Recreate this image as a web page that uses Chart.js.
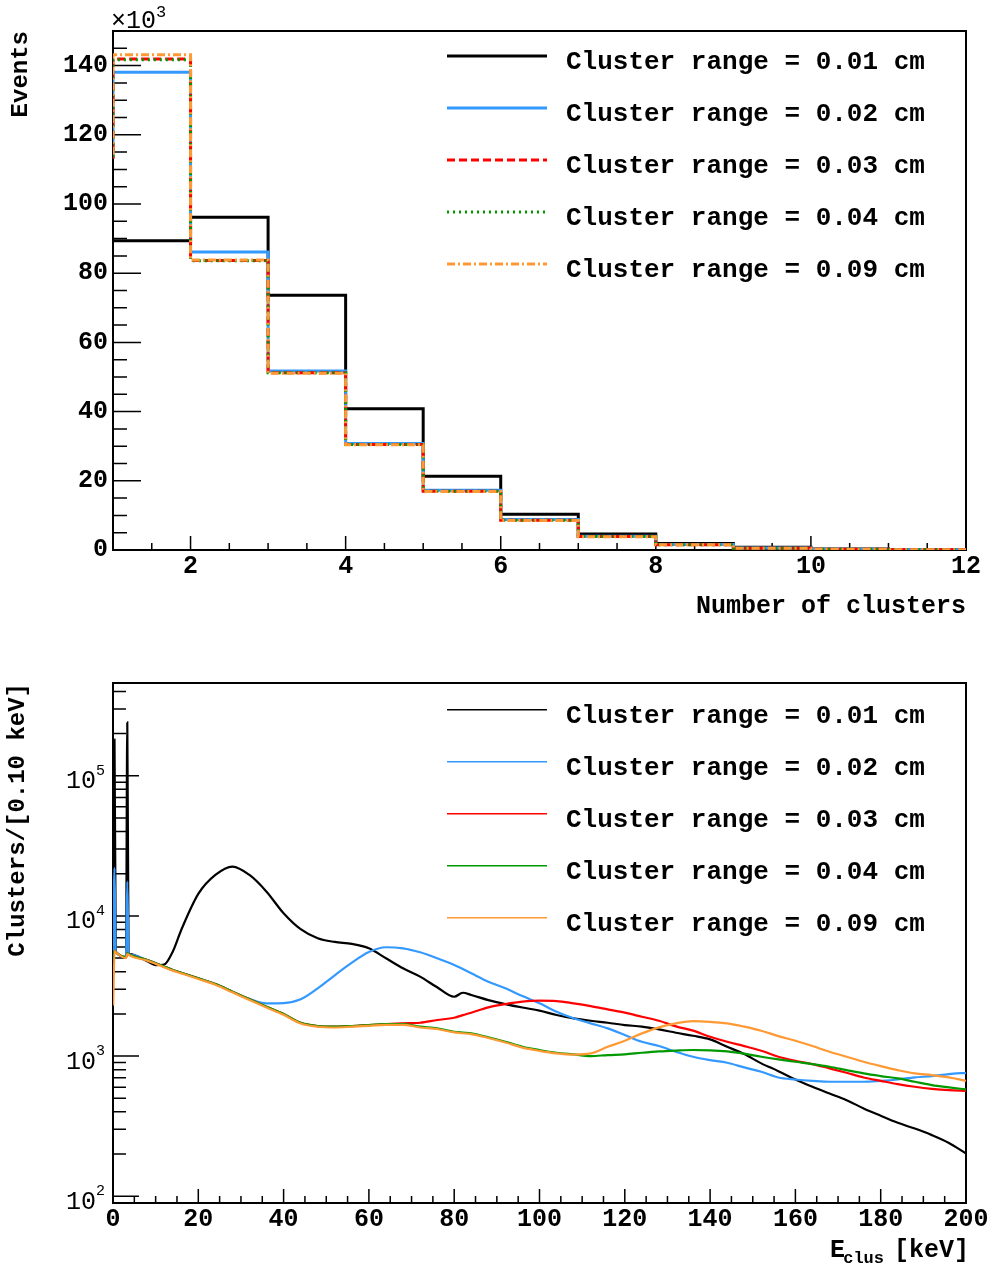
<!DOCTYPE html>
<html>
<head>
<meta charset="utf-8">
<script src="https://cdn.jsdelivr.net/npm/chart.js@4.4.1/dist/chart.umd.min.js"></script>
<style>
  html, body { margin: 0; padding: 0; background: #fff; overflow: hidden; }
  #wrap { position: relative; width: 988px; height: 1267px; overflow: hidden; }
  canvas { position: absolute; left: 0; }
  #clustersChart { top: 0; }
  #energyChart { top: 634px; }
</style>
</head>
<body>
<div id="wrap">
  <canvas id="clustersChart" width="1000" height="634"></canvas>
  <canvas id="energyChart" width="1000" height="633"></canvas>
</div>
<script>
// ---- number of clusters per event, counts in thousands ----
// lower bin edges; the bin starting at 0 lies below the drawn range
const clusterEdges = [0, 1, 2, 3, 4, 5, 6, 7, 8, 9, 10, 11];
const events001 = [89.4, 89.4, 96.2, 73.6, 40.8, 21.3, 10.3, 4.6, 1.9, 0.8, 0.3, 0.1];
const events002 = [113.5, 138.1, 86.1, 51.7, 30.8, 17.3, 8.8, 4.0, 1.6, 0.6, 0.2, 0.1];
const events003 = [113.5, 141.9, 83.7, 51.2, 30.5, 17.0, 8.6, 3.9, 1.5, 0.5, 0.2, 0.1];
const events004 = [113.5, 141.7, 83.6, 51.2, 30.5, 17.0, 8.6, 3.9, 1.5, 0.5, 0.2, 0.1];
const events009 = [113.5, 143.1, 83.8, 51.1, 30.4, 16.9, 8.5, 3.8, 1.5, 0.5, 0.2, 0.1];
const clusterTicks = [2, 4, 6, 8, 10, 12];
const eventTicks = [0, 20, 40, 60, 80, 100, 120, 140];

// ---- cluster energy spectra, clusters per 0.1 keV ----
const energies = [0.05, 0.35, 0.65, 3.05, 3.35, 3.65, 4, 8, 10, 12, 14, 16,
  20, 24, 28, 32, 36, 40, 44, 48, 52, 56, 60, 64, 68, 72, 76, 80, 82, 84,
  88, 92, 96, 100, 104, 108, 112, 116, 120, 124, 128, 132, 136, 140, 144,
  148, 152, 156, 160, 164, 168, 172, 176, 180, 184, 188, 192, 196, 200];
const clus001 = [5400, 181000, 5560, 5100, 240000, 5420, 5350, 4750, 4450, 4500, 5560, 7940,
  14350, 19600, 22500, 19600, 14900, 10450, 8040, 6930, 6520, 6310, 5870, 4990, 4230, 3690, 3095, 2650, 2830, 2730,
  2510, 2350, 2220, 2110, 1963, 1860, 1787, 1729, 1665, 1622, 1550, 1468, 1396, 1316, 1166,
  1033, 887, 781, 681, 604, 541, 485, 423, 375, 334, 304, 273, 240, 202];
const clus002 = [5000, 22000, 5560, 5100, 17600, 5420, 5300, 4850, 4600, 4345, 4115, 3935,
  3590, 3267, 2880, 2560, 2380, 2390, 2541, 3045, 3770, 4640, 5530, 5975, 5870, 5500, 4990, 4470, 4180, 3897,
  3394, 3045, 2680, 2380, 2072, 1860, 1712, 1577, 1413, 1265, 1179, 1073, 989, 936, 896,
  830, 773, 704, 681, 666, 656, 656, 656, 666, 681, 704, 720, 744, 760];
const clus003 = [4800, 5600, 5500, 5050, 5400, 5350, 5270, 4850, 4600, 4345, 4115, 3935,
  3590, 3267, 2880, 2541, 2250, 1995, 1729, 1638, 1622, 1638, 1665, 1692, 1712, 1729, 1808, 1878, 1960, 2040,
  2228, 2350, 2443, 2484, 2470, 2380, 2275, 2155, 2040, 1909, 1787, 1630, 1520, 1374, 1265,
  1179, 1091, 989, 926, 877, 817, 760, 704, 666, 631, 604, 584, 571, 565];
const clus004 = [4800, 5600, 5500, 5050, 5400, 5350, 5270, 4850, 4600, 4345, 4115, 3935,
  3590, 3267, 2880, 2541, 2250, 1995, 1729, 1638, 1622, 1638, 1665, 1692, 1692, 1622, 1577, 1492, 1470, 1452,
  1361, 1265, 1166, 1104, 1056, 1028, 1000, 1017, 1028, 1056, 1080, 1095, 1105, 1100, 1080,
  1040, 989, 947, 911, 877, 839, 794, 752, 720, 693, 656, 621, 598, 578];
const clus009 = [2300, 5600, 5500, 5000, 5350, 5300, 5200, 4800, 4550, 4300, 4070, 3890,
  3550, 3230, 2850, 2510, 2220, 1970, 1710, 1620, 1600, 1620, 1645, 1670, 1670, 1600, 1560, 1475, 1455, 1435,
  1345, 1250, 1150, 1090, 1045, 1025, 1045, 1166, 1286, 1452, 1603, 1712, 1778, 1757, 1712,
  1622, 1517, 1389, 1286, 1179, 1073, 989, 911, 848, 794, 752, 732, 704, 666];
const energyTicks = [0, 20, 40, 60, 80, 100, 120, 140, 160, 180, 200];
const decadeTicks = [1e2, 1e3, 1e4, 1e5];

const clusterRanges = ['0.01', '0.02', '0.03', '0.04', '0.09'];

// ---- styles ----
const FONT = '"Liberation Mono", "Courier New", monospace';
const colors = ['#000000', '#3399ff', '#ff0000', '#009900', '#ff9933'];
const dashes = [[], [], [8, 4], [2, 4], [8, 3, 2, 3]];

function histPoints(values) {
  const pts = clusterEdges.map((x, i) => ({ x: x, y: values[i] }));
  // close the last bin at its upper edge
  pts.push({ x: clusterEdges[clusterEdges.length - 1] + 1, y: values[values.length - 1] });
  return pts;
}

function spectrumPoints(values) {
  return energies.map((e, i) => ({ x: e, y: values[i] }));
}

// tick marks every `step` between min and max, long ones on the labelled values
function linearMarks(min, max, step, majors) {
  const out = [];
  const n = Math.round((max - min) / step);
  for (let i = 0; i <= n; i++) {
    const v = min + i * step;
    out.push({ v: v, major: majors.some(m => Math.abs(m - v) < 1e-9) });
  }
  return out;
}

function logMarks(min, max) {
  const out = [];
  for (let k = 1; k <= 5; k++) {
    for (let m = 1; m <= 9; m++) {
      const v = m * Math.pow(10, k);
      if (v >= min && v <= max) out.push({ v: v, major: m === 1 });
    }
  }
  return out;
}

function drawFrameAndMarks(chart, xMarks, yMarks, len) {
  const ctx = chart.ctx, a = chart.chartArea;
  const xs = chart.scales.x, ys = chart.scales.y;
  ctx.save();
  ctx.strokeStyle = '#000';
  ctx.lineWidth = 1.5;
  ctx.beginPath();
  xMarks.forEach(m => {
    const px = xs.getPixelForValue(m.v);
    ctx.moveTo(px, a.bottom);
    ctx.lineTo(px, a.bottom - (m.major ? len.xMajor : len.xMinor));
  });
  yMarks.forEach(m => {
    const py = ys.getPixelForValue(m.v);
    ctx.moveTo(a.left, py);
    ctx.lineTo(a.left + (m.major ? len.yMajor : len.yMinor), py);
  });
  ctx.stroke();
  ctx.lineWidth = 2;
  ctx.strokeRect(a.left, a.top, a.right - a.left, a.bottom - a.top);
  ctx.restore();
}

function drawLegend(ctx, top, lineWidth, useDashes) {
  ctx.save();
  ctx.font = 'bold 26px ' + FONT;
  ctx.fillStyle = '#000';
  ctx.textAlign = 'left';
  ctx.textBaseline = 'alphabetic';
  clusterRanges.forEach((r, i) => {
    const y = top + i * 52;
    ctx.strokeStyle = colors[i];
    ctx.lineWidth = lineWidth;
    ctx.setLineDash(useDashes ? dashes[i] : []);
    ctx.beginPath();
    ctx.moveTo(447, y);
    ctx.lineTo(547, y);
    ctx.stroke();
    ctx.fillText('Cluster range = ' + r + ' cm', 566, y + 13);
  });
  ctx.restore();
}

function drawVerticalTitle(ctx, text, x, top) {
  ctx.save();
  ctx.translate(x, top);
  ctx.rotate(-Math.PI / 2);
  ctx.font = 'bold 24px ' + FONT;
  ctx.fillStyle = '#000';
  ctx.textAlign = 'right';
  ctx.textBaseline = 'alphabetic';
  ctx.fillText(text, 0, 0);
  ctx.restore();
}

const tickFont = { family: FONT, size: 25, weight: 'bold' };

// ---------------- number of clusters ----------------
const topMarksX = linearMarks(1, 12, 0.5, clusterTicks);
const topMarksY = linearMarks(0, 150, 5, eventTicks);

const clustersDecor = {
  id: 'clustersDecor',
  beforeDatasetsDraw(chart) {
    drawFrameAndMarks(chart, topMarksX, topMarksY, { xMajor: 14, xMinor: 7, yMajor: 28, yMinor: 14 });
  },
  afterDraw(chart) {
    const ctx = chart.ctx;
    drawLegend(ctx, 56, 3, true);
    drawVerticalTitle(ctx, 'Events', 27, 31);
    ctx.save();
    ctx.fillStyle = '#000';
    ctx.font = 'bold 25px ' + FONT;
    ctx.textAlign = 'right';
    ctx.fillText('Number of clusters', 966, 613);
    // common factor of the event axis
    ctx.textAlign = 'left';
    ctx.font = '25px ' + FONT;
    ctx.fillText('\u00d710', 111, 28);
    const w = ctx.measureText('\u00d710').width;
    ctx.font = '17px ' + FONT;
    ctx.fillText('3', 111 + w, 17);
    ctx.restore();
  }
};

new Chart(document.getElementById('clustersChart'), {
  type: 'line',
  data: {
    datasets: [events001, events002, events003, events004, events009].map((v, i) => ({
      data: histPoints(v),
      borderColor: colors[i],
      borderDash: dashes[i],
      borderWidth: 3,
      stepped: 'before',
      pointRadius: 0,
      fill: false,
      order: 5 - i
    }))
  },
  options: {
    responsive: false,
    animation: false,
    events: [],
    layout: { padding: { top: 31, right: 34, left: 0, bottom: 0 } },
    plugins: { legend: { display: false }, tooltip: { enabled: false } },
    scales: {
      x: {
        type: 'linear', min: 1, max: 12,
        afterFit: s => { s.height = 84; },
        afterBuildTicks: s => { s.ticks = clusterTicks.map(v => ({ value: v })); },
        grid: { display: false, drawTicks: false },
        border: { display: false },
        ticks: { font: tickFont, color: '#000', padding: 2, maxRotation: 0, autoSkip: false }
      },
      y: {
        type: 'linear', min: 0, max: 150,
        afterFit: s => { s.width = 113; },
        afterBuildTicks: s => { s.ticks = eventTicks.map(v => ({ value: v })); },
        grid: { display: false, drawTicks: false },
        border: { display: false },
        ticks: { font: tickFont, color: '#000', padding: 5, autoSkip: false }
      }
    }
  },
  plugins: [clustersDecor]
});

// ---------------- cluster energy ----------------
const E_MIN_Y = 89.5, E_MAX_Y = 4.59e5;
const botMarksX = linearMarks(0, 200, 5, energyTicks);
const botMarksY = logMarks(E_MIN_Y, E_MAX_Y);

const energyDecor = {
  id: 'energyDecor',
  beforeDatasetsDraw(chart) {
    drawFrameAndMarks(chart, botMarksX, botMarksY, { xMajor: 14, xMinor: 7, yMajor: 26, yMinor: 13 });
  },
  afterDraw(chart) {
    const ctx = chart.ctx;
    const ys = chart.scales.y;
    drawLegend(ctx, 75.7, 1.5, false);
    drawVerticalTitle(ctx, 'Clusters/[0.10 keV]', 24, 49);
    ctx.save();
    ctx.fillStyle = '#000';
    // powers of ten on the log axis
    decadeTicks.forEach(v => {
      const py = ys.getPixelForValue(v);
      ctx.textAlign = 'right';
      ctx.font = '25px ' + FONT;
      ctx.fillText('10', 96, py + 12.5);
      ctx.textAlign = 'left';
      ctx.font = '15px ' + FONT;
      ctx.fillText(String(Math.round(Math.log10(v))), 96, py - 1);
    });
    // E_clus [keV]
    ctx.textAlign = 'right';
    ctx.font = 'bold 25px ' + FONT;
    ctx.fillText('[keV]', 969, 622.7);
    ctx.font = 'bold 17px ' + FONT;
    ctx.fillText('clus', 884, 628.5);
    ctx.font = 'bold 25px ' + FONT;
    ctx.fillText('E', 845, 622.7);
    ctx.restore();
  }
};

new Chart(document.getElementById('energyChart'), {
  type: 'line',
  data: {
    datasets: [clus001, clus002, clus003, clus004, clus009].map((v, i) => ({
      data: spectrumPoints(v),
      borderColor: colors[i],
      borderWidth: 2.2,
      cubicInterpolationMode: 'monotone',
      pointRadius: 0,
      fill: false,
      order: 5 - i
    }))
  },
  options: {
    responsive: false,
    animation: false,
    events: [],
    layout: { padding: { top: 49, right: 34, left: 0, bottom: 0 } },
    plugins: { legend: { display: false }, tooltip: { enabled: false } },
    scales: {
      x: {
        type: 'linear', min: 0, max: 200,
        afterFit: s => { s.height = 64; },
        afterBuildTicks: s => { s.ticks = energyTicks.map(v => ({ value: v })); },
        grid: { display: false, drawTicks: false },
        border: { display: false },
        ticks: { font: tickFont, color: '#000', padding: 2, maxRotation: 0, autoSkip: false }
      },
      y: {
        type: 'logarithmic', min: E_MIN_Y, max: E_MAX_Y,
        afterFit: s => { s.width = 113; },
        grid: { display: false, drawTicks: false },
        border: { display: false },
        ticks: { display: false }
      }
    }
  },
  plugins: [energyDecor]
});
</script>
</body>
</html>
